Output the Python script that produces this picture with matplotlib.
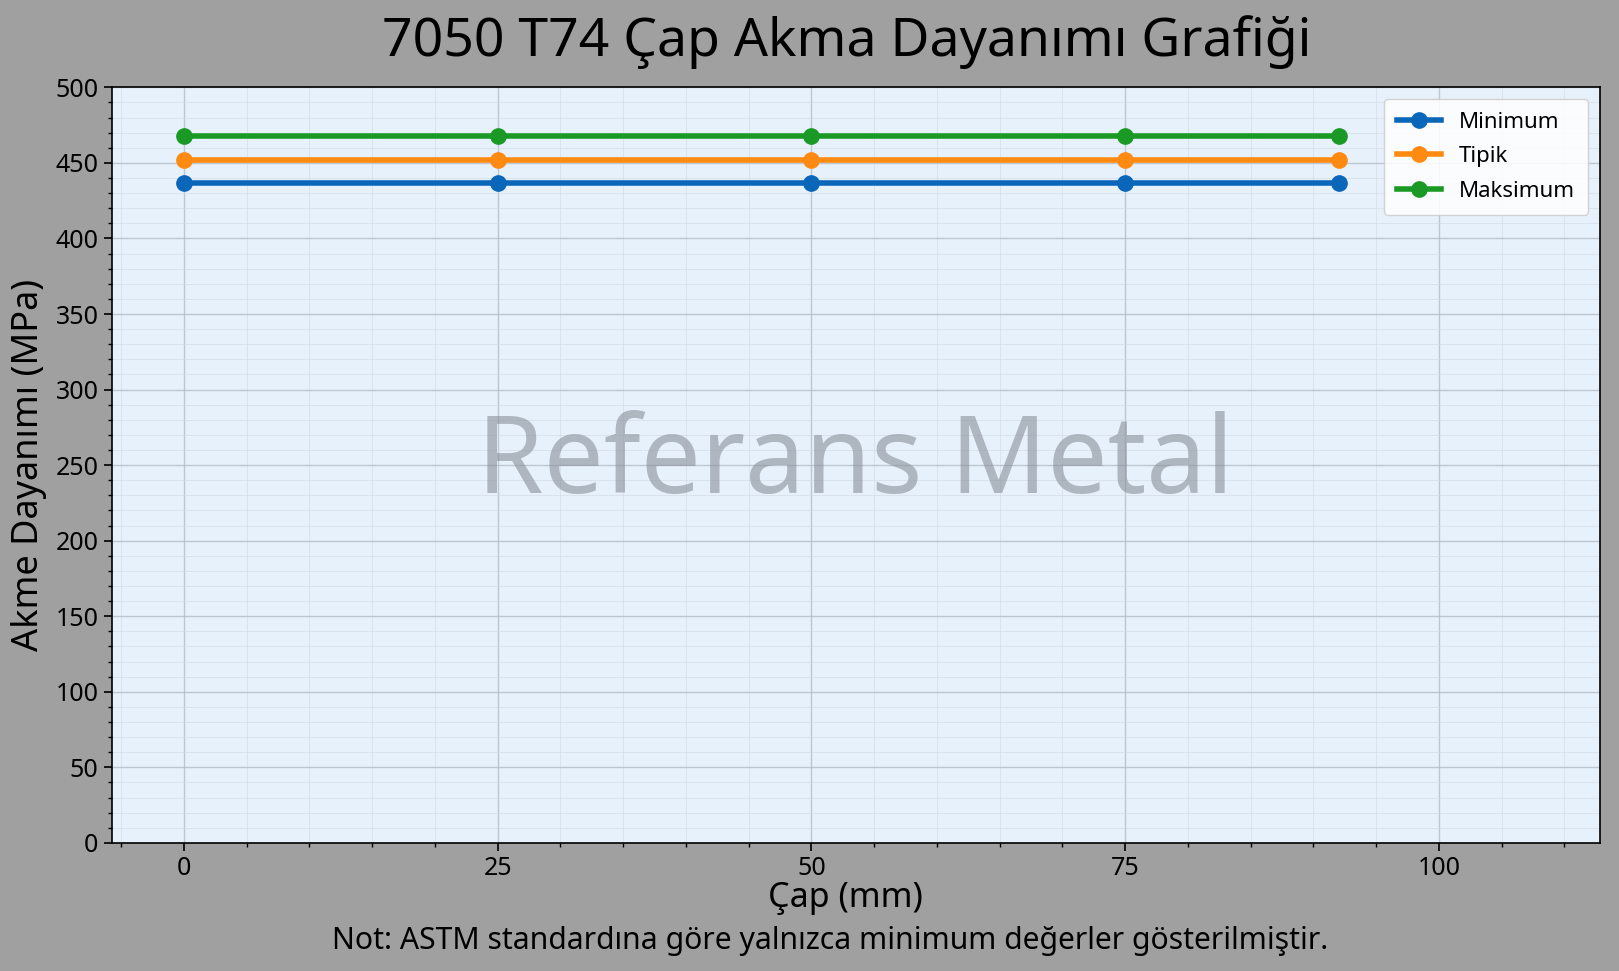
import matplotlib
matplotlib.use('Agg')
import matplotlib.pyplot as plt
from matplotlib.ticker import MultipleLocator

plt.rcParams['font.family'] = ['Noto Sans', 'DejaVu Sans']

# data
cap = [0, 25, 50, 75, 92]
minimum = [437, 437, 437, 437, 437]
tipik = [452, 452, 452, 452, 452]
maksimum = [468, 468, 468, 468, 468]
series_names = ['Minimum', 'Tipik', 'Maksimum']
colors = ['#0a66b8', '#ff8a12', '#1a9a25']

fig = plt.figure(figsize=(16.19, 9.71), dpi=100, facecolor='#a0a0a0')
ax = fig.add_axes([0.069, 0.132, 0.919, 0.778])
ax.set_facecolor('#e6f1fc')

for vals, name, c in zip([minimum, tipik, maksimum], series_names, colors):
    ax.plot(cap, vals, '-o', color=c, lw=4, ms=11, label=name, zorder=3)

ax.set_xlim(-5.75, 112.8)
ax.set_ylim(0, 500)
ax.xaxis.set_major_locator(MultipleLocator(25))
ax.xaxis.set_minor_locator(MultipleLocator(5))
ax.yaxis.set_major_locator(MultipleLocator(50))
ax.yaxis.set_minor_locator(MultipleLocator(10))

ax.grid(which='major', color='#b5bcc4', lw=1.0, alpha=0.8)
ax.grid(which='minor', color='#d2dae2', lw=0.6, alpha=0.7)
ax.set_axisbelow(True)

ax.tick_params(which='major', labelsize=18, length=6, width=1.2)
ax.tick_params(which='minor', length=3, width=1)
for s in ax.spines.values():
    s.set_color('black')
    s.set_linewidth(1.2)

ax.set_xlabel('Çap (mm)', fontsize=24.5, labelpad=0, x=0.493)
ax.set_ylabel('Akme Dayanımı (MPa)', fontsize=26, labelpad=6)
fig.text(0.523, 0.957, '7050 T74 Çap Akma Dayanımı Grafiği', fontsize=38.5,
         ha='center', va='center')

ax.text(0.5, 0.5, 'Referans Metal', transform=ax.transAxes, fontsize=77,
        color='#8a9099', alpha=0.6, ha='center', va='center', zorder=2)

leg = ax.legend(loc='upper right', fontsize=16, framealpha=0.85,
                handlelength=2.0, borderpad=0.6, labelspacing=0.6)
leg.get_frame().set_edgecolor('#cccccc')

fig.text(0.513, 0.031, 'Not: ASTM standardına göre yalnızca minimum değerler gösterilmiştir.',
         ha='center', va='center', fontsize=21.7)

fig.savefig('out.png', dpi=100, facecolor=fig.get_facecolor())
